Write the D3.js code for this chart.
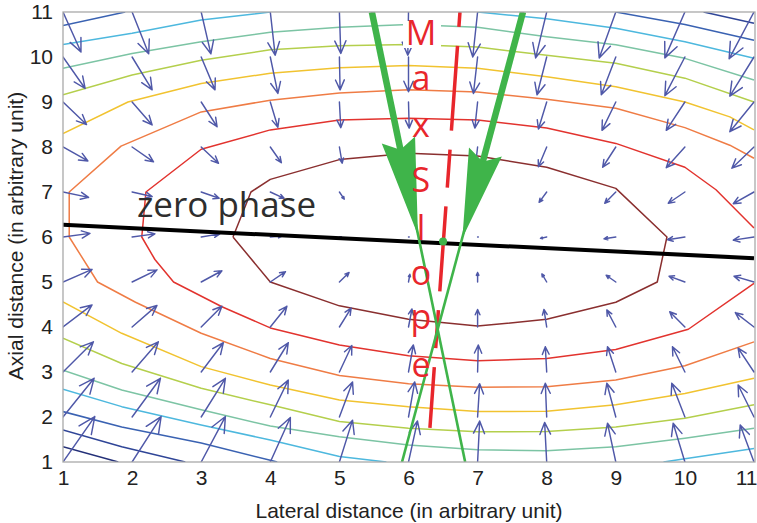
<!DOCTYPE html>
<html><head><meta charset="utf-8">
<script src="https://cdn.jsdelivr.net/npm/d3@7"></script>
<style>body{margin:0;background:#fff}svg{display:block}</style>
</head><body>
<svg id="c" width="757" height="523"></svg>
<script>
// ---------- data ----------
const xTicks = [1,2,3,4,5,6,7,8,9,10,11];
const yTicks = [1,2,3,4,5,6,7,8,9,10,11];
const gridX = [1,2,3,4,5,6,7,8,9,10,11];
const gridY = [11,10,9,8,7,6,5,4,3,2,1];
// quiver components (data units), rows follow gridY
const arrowU = [
 [0.26,0.24,0.14,0.07,0.02,-0.01,-0.07,-0.16,-0.24,-0.29,-0.36],
 [0.32,0.29,0.20,0.11,0.01,0.00,-0.06,-0.14,-0.21,-0.29,-0.35],
 [0.34,0.29,0.23,0.11,0.02,0.01,-0.04,-0.12,-0.20,-0.27,-0.35],
 [0.36,0.31,0.25,0.16,0.04,0.02,-0.03,-0.12,-0.19,-0.27,-0.32],
 [0.37,0.29,0.26,0.20,0.07,0.02,-0.01,-0.11,-0.16,-0.24,-0.30],
 [0.39,0.33,0.27,0.17,0.03,0.01,0.01,-0.09,-0.17,-0.25,-0.30],
 [0.42,0.36,0.30,0.22,0.14,0.02,0.00,-0.07,-0.14,-0.23,-0.29],
 [0.42,0.36,0.30,0.24,0.17,0.05,0.00,-0.04,-0.13,-0.22,-0.27],
 [0.44,0.38,0.32,0.26,0.18,0.07,0.01,-0.02,-0.12,-0.18,-0.23],
 [0.45,0.41,0.35,0.26,0.19,0.09,0.03,-0.02,-0.13,-0.19,-0.23],
 [0.46,0.42,0.35,0.29,0.19,0.13,0.03,-0.03,-0.12,-0.17,-0.20]
];
const arrowV = [
 [-0.89,-0.93,-0.93,-0.96,-0.92,-0.96,-1.00,-1.02,-1.02,-1.02,-1.04],
 [-0.70,-0.73,-0.73,-0.81,-0.73,-0.77,-0.81,-0.84,-0.84,-0.86,-0.87],
 [-0.50,-0.51,-0.55,-0.56,-0.57,-0.58,-0.58,-0.60,-0.63,-0.63,-0.66],
 [-0.31,-0.33,-0.36,-0.35,-0.36,-0.33,-0.40,-0.44,-0.45,-0.46,-0.47],
 [-0.12,-0.10,-0.14,-0.14,-0.16,-0.11,-0.11,-0.23,-0.25,-0.25,-0.26],
 [0.08,0.07,0.07,0.02,0.00,0.00,0.00,-0.03,-0.04,-0.06,-0.07],
 [0.28,0.27,0.25,0.23,0.21,0.17,0.21,0.18,0.15,0.13,0.13],
 [0.49,0.48,0.46,0.46,0.42,0.40,0.39,0.39,0.38,0.34,0.32],
 [0.67,0.67,0.65,0.65,0.59,0.60,0.60,0.56,0.56,0.56,0.53],
 [0.86,0.86,0.86,0.82,0.78,0.78,0.74,0.75,0.75,0.75,0.71],
 [1.01,1.01,1.01,0.99,0.93,0.91,0.91,0.88,0.86,0.86,0.82]
];
// contour lines (x, y) per level
const darkRedLoop = [[3.46,6.0],[3.72,7.0],[4.0,7.28],[5.0,7.72],[6.0,7.86],[7.0,7.8],[8.0,7.55],[9.0,7.08],[9.74,6.0],[9.6,5.0],[9.0,4.55],[8.0,4.17],[7.0,4.02],[6.0,4.17],[5.0,4.47],[4.0,5.0],[3.46,6.0]];
const redLine = [[11,6.2],[10.45,7.05],[10.0,7.55],[9.0,8.08],[8.0,8.42],[7.0,8.6],[6.0,8.64],[5.0,8.6],[4.0,8.38],[3.0,7.95],[2.2,7.0],[2.14,6.0],[2.33,5.5],[2.6,5.0],[3.3,4.45],[4.0,3.98],[5.0,3.6],[6.0,3.36],[7.0,3.25],[8.0,3.3],[9.0,3.5],[10.05,3.95],[11,4.97]];
const orangeLine = [[11,7.75],[10.65,8.04],[10.0,8.43],[9.0,8.86],[8.0,9.06],[7.0,9.22],[6.0,9.27],[5.0,9.2],[4.0,9.04],[3.0,8.78],[1.84,8.02],[1.09,7.0],[1.09,6.0],[1.5,5.0],[2.05,4.55],[3.0,3.86],[4.0,3.3],[5.0,2.92],[6.0,2.74],[7.0,2.66],[8.0,2.67],[9.0,2.82],[10.0,3.14],[11,3.67]];
const yellowUpper = [[1,8.3],[1.94,9.0],[3.0,9.41],[4.0,9.64],[5.0,9.76],[6.0,9.81],[7.0,9.75],[8.0,9.56],[9.0,9.34],[10.0,9.0],[10.65,8.67],[11,8.38]];
const yellowLower = [[1,4.56],[1.85,3.86],[3.0,3.12],[4.0,2.71],[5.0,2.38],[6.0,2.23],[7.0,2.12],[8.0,2.13],[9.0,2.27],[10.0,2.52],[11,2.86]];
const yellowGreenUpper = [[1,9.16],[2.0,9.6],[3.0,9.93],[4.0,10.16],[5.0,10.25],[6.0,10.28],[7.0,10.22],[8.0,10.04],[9.0,9.86],[10.0,9.53],[11,9.0]];
const yellowGreenLower = [[1,3.75],[1.85,3.19],[3.0,2.64],[4.0,2.27],[5.0,1.9],[6.0,1.75],[7.0,1.67],[8.0,1.68],[9.0,1.78],[10.0,1.97],[11,2.27]];
const tealUpper = [[1,9.75],[2.0,10.08],[3.0,10.34],[4.0,10.55],[5.0,10.66],[6.0,10.72],[7.0,10.66],[8.0,10.45],[9.0,10.27],[10.0,9.97],[11,9.49]];
const tealLower = [[1,3.04],[1.85,2.6],[3.0,2.16],[4.0,1.8],[5.0,1.56],[6.0,1.38],[7.0,1.27],[8.0,1.25],[9.0,1.34],[10.0,1.53],[11,1.75]];
const cyanUpperLeft = [[1,10.28],[2.0,10.53],[3.0,10.82],[4.0,11.0]];
const cyanUpperRight = [[7.0,11.0],[8.0,10.85],[9.0,10.64],[10.0,10.34],[11,9.97]];
const cyanLowerLeft = [[1,2.62],[1.85,2.23],[3.0,1.82],[4.0,1.49],[5.0,1.12],[5.68,1.0]];
const cyanLowerRight = [[9.69,1.0],[10.0,1.07],[11,1.3]];
const blueUpperLeft = [[1,10.7],[1.9,11.0]];
const blueUpperRight = [[9.0,11.0],[10.0,10.72],[11,10.37]];
const blueLower = [[1,2.12],[1.85,1.78],[3.0,1.42],[4.0,1.04],[4.1,1.0]];
const darkBlueUpper = [[10.27,11.0],[11,10.75]];
const darkBlueLower = [[1,1.71],[1.85,1.34],[2.77,1.0]];
const navyLower = [[1,1.34],[1.8,1.0]];
// annotation geometry (data units)
const zeroPhaseLine = [[1,6.27],[11,5.53]];
const greenLeft = {start:[5.47,11], end:[6.82,1.0], base:[5.854,8.156], tip:[6.137,6.04]};
const greenRight = {start:[7.657,11], end:[5.906,1.0], base:[7.113,7.889], tip:[6.78,5.98]};
const greenDot = [6.5,5.9];
const slopeLine = [[6.745,11],[6.31,1.76]];
const slopeLetters = ["M","a","x","S","l","o","p","e"];
const slopeLetterY = [10.27,9.27,8.22,7.0,5.93,4.93,3.96,2.89];
const slopeLetterX = 6.18;
const zeroPhaseLabelPos = [2.07,6.44];

// ---------- drawing ----------
const svg = d3.select('#c');
const x = d3.scaleLinear().domain([1,11]).range([63,754]);
const y = d3.scaleLinear().domain([1,11]).range([462,12]);
const pL = 63, pR = 755, pT = 12, pB = 462;

svg.append('rect').attr('width',757).attr('height',523).attr('fill','#fff');
svg.append('clipPath').attr('id','pc').append('rect')
  .attr('x',pL).attr('y',pT).attr('width',pR-pL).attr('height',pB-pT);

const plot = svg.append('g').attr('clip-path','url(#pc)');
const line = d3.line().x(d=>x(d[0])).y(d=>y(d[1]));

const levels = [
  {c:'#243078', l:[navyLower]},
  {c:'#2f4597', l:[darkBlueLower, darkBlueUpper]},
  {c:'#3a62b2', l:[blueLower, blueUpperLeft, blueUpperRight]},
  {c:'#4db8de', l:[cyanLowerLeft, cyanLowerRight, cyanUpperLeft, cyanUpperRight]},
  {c:'#7cc4a4', l:[tealLower, tealUpper]},
  {c:'#b4cf4c', l:[yellowGreenLower, yellowGreenUpper]},
  {c:'#f1c330', l:[yellowLower, yellowUpper]},
  {c:'#ef7c45', l:[orangeLine]},
  {c:'#e2332e', l:[redLine]},
  {c:'#8a2f2f', l:[darkRedLoop]}
];
levels.forEach(lv => lv.l.forEach(pts => {
  plot.append('path').attr('d', line(pts)).attr('fill','none')
    .attr('stroke', lv.c).attr('stroke-width',1.5).attr('stroke-linejoin','round');
}));

// quiver
const qg = plot.append('g').attr('stroke','#4f58a8').attr('stroke-width',1.45)
  .attr('fill','none').attr('stroke-linecap','round').attr('stroke-linejoin','round');
gridY.forEach((gyv,i) => gridX.forEach((gxv,j) => {
  const u = arrowU[i][j], v = arrowV[i][j];
  const x0 = x(gxv), y0 = y(gyv), x1 = x(gxv+u), y1 = y(gyv+v);
  const dx = x1-x0, dy = y1-y0, L = Math.hypot(dx,dy);
  if (L < 0.5) return;
  const a = Math.atan2(dy,dx), h = 0.33*L, w = 0.42;
  const p = `M${x0},${y0}L${x1},${y1}` +
    `M${x1-h*Math.cos(a-w)},${y1-h*Math.sin(a-w)}L${x1},${y1}L${x1-h*Math.cos(a+w)},${y1-h*Math.sin(a+w)}`;
  qg.append('path').attr('d',p);
}));

// frame
svg.append('rect').attr('x',pL).attr('y',pT).attr('width',pR-pL).attr('height',pB-pT)
  .attr('fill','none').attr('stroke','#a9a9a9').attr('stroke-width',1.3);

// axes
const fontAx = 'Liberation Sans, Arial, Helvetica, sans-serif';
const gAx = svg.append('g').attr('transform',`translate(0,${pB})`)
  .call(d3.axisBottom(x).tickValues(xTicks).tickFormat(d3.format('d')).tickSize(0).tickPadding(8));
gAx.select('.domain').remove();
gAx.attr('font-size',21).attr('font-family',fontAx).selectAll('text').attr('fill','#222');
// keep the last label inside the page
gAx.selectAll('.tick').filter(d => d === 11).select('text').attr('text-anchor','end').attr('x', 757 - x(11));
const gAy = svg.append('g').attr('transform',`translate(${pL},0)`)
  .call(d3.axisLeft(y).tickValues(yTicks).tickFormat(d3.format('d')).tickSize(0).tickPadding(10));
gAy.select('.domain').remove();
gAy.attr('font-size',21).attr('font-family',fontAx).selectAll('text').attr('fill','#222');

svg.append('text').attr('x',409).attr('y',518).attr('text-anchor','middle')
  .attr('font-family',fontAx).attr('font-size',21).attr('fill','#222')
  .text('Lateral distance (in arbitrary unit)');
svg.append('text').attr('transform','translate(23,236) rotate(-90)').attr('text-anchor','middle')
  .attr('font-family',fontAx).attr('font-size',21).attr('fill','#222')
  .text('Axial distance (in arbitrary unit)');

// zero phase line
plot.append('path').attr('d', line(zeroPhaseLine)).attr('stroke','#000').attr('stroke-width',4).attr('fill','none');
svg.append('text').attr('x',x(zeroPhaseLabelPos[0])).attr('y',y(zeroPhaseLabelPos[1]))
  .attr('font-family','Open Sans, Noto Sans, sans-serif').attr('font-size',35).attr('fill','#2e2e2e')
  .text('zero phase');

// red dashed max-slope line
plot.append('path').attr('d', line(slopeLine)).attr('stroke','#e8262c').attr('stroke-width',3.5)
  .attr('fill','none').attr('stroke-dasharray','85,19,38,19').attr('stroke-dashoffset',127);

// green arrows
const green = '#3fb44a';
[greenLeft, greenRight].forEach(g => {
  plot.append('path').attr('d', line([g.start, g.end])).attr('stroke',green).attr('stroke-width',2.6).attr('fill','none');
  const sx = x(g.start[0]), sy = y(g.start[1]);
  const bx = x(g.base[0]), by = y(g.base[1]);
  const tx = x(g.tip[0]), ty = y(g.tip[1]);
  const dx = tx-bx, dy = ty-by, L = Math.hypot(dx,dy);
  const ux = dx/L, uy = dy/L, nx = -uy, ny = ux, hw = 17, notch = 10;
  plot.append('path').attr('d', `M${sx},${sy}L${bx+ux*notch},${by+uy*notch}`)
    .attr('stroke',green).attr('stroke-width',6.5).attr('fill','none');
  plot.append('path').attr('d',
    `M${tx},${ty}L${bx+nx*hw},${by+ny*hw}L${bx+ux*notch},${by+uy*notch}L${bx-nx*hw},${by-ny*hw}Z`)
    .attr('fill',green);
});
svg.append('circle').attr('cx',x(greenDot[0])).attr('cy',y(greenDot[1])).attr('r',4).attr('fill',green);

// "Max Slope" vertical letters
svg.append('rect').attr('x',403).attr('y',21).attr('width',38).attr('height',27).attr('fill','#fff');
svg.append('g').selectAll('text').data(slopeLetters).join('text')
  .attr('x', x(slopeLetterX)).attr('y',(d,i)=>y(slopeLetterY[i]))
  .attr('text-anchor','middle').attr('font-family','Open Sans, Noto Sans, sans-serif')
  .attr('font-size',34).attr('fill','#e8262c').text(d=>d);
</script>
</body></html>
